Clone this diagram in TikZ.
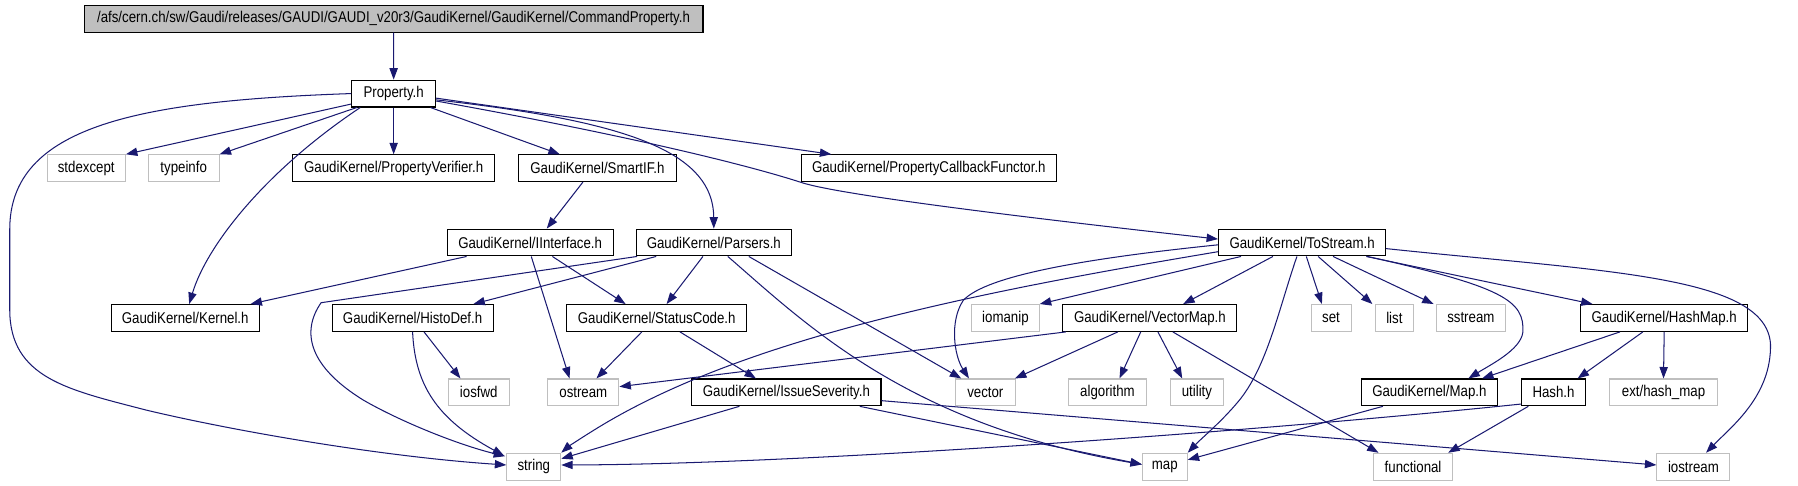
\documentclass[tikz,border=0pt]{standalone}
\usepackage{fontspec}
\setmainfont{Liberation Sans}[FakeStretch=0.85]
\usetikzlibrary{arrows.meta}
\definecolor{edgec}{HTML}{191970}
\definecolor{grayb}{HTML}{BFBFBF}
\definecolor{topfill}{HTML}{BFBFBF}
\newcommand\bxn[6]{\node[#1, minimum width=#5*0.5pt] (#2) at (#3,#4) {#6};}
\begin{document}
\begin{tikzpicture}[x=0.5pt,y=-0.5pt,
  every node/.style={font=\fontsize{6.8pt}{7.5pt}\selectfont, inner sep=0pt, minimum height=11.7pt, anchor=center},
  bk/.style={draw=black, line width=0.45pt},
  gr/.style={draw=grayb, line width=0.45pt},
  tp/.style={draw=black, fill=topfill, line width=0.45pt},
  ed/.style={draw=edgec, line width=0.45pt, -{Triangle[length=5pt,width=3.6pt]}, edgec}]
\useasboundingbox (0,0) rectangle (1568,423);
% row 0/1
\bxn{tp}{top}{343.2}{16.3}{539.7}{/afs/cern.ch/sw/Gaudi/releases/GAUDI/GAUDI\_v20r3/GaudiKernel/GaudiKernel/CommandProperty.h}
\bxn{bk}{prop}{343.3}{81.6}{73.3}{Property.h}
% row 2
\bxn{gr}{stdexcept}{75.2}{146.7}{68.3}{stdexcept}
\bxn{gr}{typeinfo}{160.2}{146.7}{61.7}{typeinfo}
\bxn{bk}{pverif}{343.3}{146.7}{176.7}{GaudiKernel/PropertyVerifier.h}
\bxn{bk}{smartif}{521}{146.7}{137.4}{GaudiKernel/SmartIF.h}
\bxn{bk}{pcbf}{810}{146.7}{222.6}{GaudiKernel/PropertyCallbackFunctor.h}
% row 3
\bxn{bk}{iint}{462.3}{211.5}{144.7}{GaudiKernel/IInterface.h}
\bxn{bk}{parsers}{622.5}{211.5}{135.6}{GaudiKernel/Parsers.h}
\bxn{bk}{tostream}{1135.5}{211.5}{145.6}{GaudiKernel/ToStream.h}
% row 4
\bxn{bk}{kernel}{161.5}{277.3}{129}{GaudiKernel/Kernel.h}
\bxn{bk}{histodef}{359.8}{277.3}{140.3}{GaudiKernel/HistoDef.h}
\bxn{bk}{statuscode}{572.7}{277.3}{157.3}{GaudiKernel/StatusCode.h}
\bxn{gr}{iomanip}{876.8}{277.3}{59}{iomanip}
\bxn{bk}{vectormap}{1002.8}{277.3}{151.7}{GaudiKernel/VectorMap.h}
\bxn{gr}{set}{1160.8}{277.3}{35}{set}
\bxn{gr}{list}{1216}{277.3}{33.4}{list}
\bxn{gr}{sstream}{1282.7}{277.3}{60}{sstream}
\bxn{bk}{hashmap}{1451.3}{277.3}{146}{GaudiKernel/HashMap.h}
% row 5
\bxn{gr}{iosfwd}{417.5}{342.2}{53}{iosfwd}
\bxn{gr}{ostream}{508.7}{342.2}{62}{ostream}
\bxn{bk}{issue}{685.8}{342.2}{165}{GaudiKernel/IssueSeverity.h}
\bxn{gr}{vector}{859.3}{342.2}{52.7}{vector}
\bxn{gr}{algorithm}{965.8}{342.2}{67.7}{algorithm}
\bxn{gr}{utility}{1043.8}{342.2}{45.7}{utility}
\bxn{bk}{mapk}{1246.5}{342.2}{119}{GaudiKernel/Map.h}
\bxn{bk}{hash}{1354.8}{342.2}{55.7}{Hash.h}
\bxn{gr}{exthash}{1450.7}{342.2}{94}{ext/hash\_map}
% row 6
\bxn{gr}{string}{465.5}{407}{47}{string}
\bxn{gr}{map}{1015.8}{407}{39}{map}
\bxn{gr}{functional}{1232.3}{407}{69.3}{functional}
\bxn{gr}{iostream}{1476.8}{407}{63.7}{iostream}

% ---- edges
\draw[ed] (top.south) -- (prop.north);
% Property.h
\draw[ed] ([shift={(0,-3)}]prop.south west) -- (stdexcept.north east);
\draw[ed] ([shift={(5,0)}]prop.south west) -- (typeinfo.north east);
\draw[ed] ([shift={(8,0)}]prop.south west) .. controls (230,150) and (180,215) .. ([shift={(3.5,0)}]kernel.north);
\draw[ed] (prop.south) -- (pverif.north);
\draw[ed] ([shift={(-5,0)}]prop.south east) -- ([shift={(-32.8,0)}]smartif.north);
\draw[ed] ([shift={(0,4)}]prop.east) -- ([shift={(-85,0)}]pcbf.north);
\draw[ed] ([shift={(0,5.5)}]prop.east) .. controls (540,105) and (622,130) .. (parsers.north);
\draw[ed] ([shift={(0,6.5)}]prop.east) .. controls (520,113) and (640,140) .. (700,159.5)
   .. controls (740,172) and (950,196) .. ([shift={(0,-3)}]tostream.west);
\draw[ed] (prop.west) .. controls (120,88) and (8.5,110) .. (8.5,200) -- (8.5,270)
   .. controls (8.5,330) and (60,340) .. (127,357.5)
   .. controls (200,375) and (330,398) .. ([shift={(0,-1.5)}]string.west);
% SmartIF / IInterface
\draw[ed] ([shift={(-12.7,0)}]smartif.south) -- ([shift={(14.5,0)}]iint.north);
\draw[ed] ([shift={(-55.4,0)}]iint.south) -- ([shift={(-8,0)}]kernel.north east);
\draw[ed] ([shift={(19.4,0)}]iint.south) -- ([shift={(52,0)}]statuscode.north west);
\draw[ed] ([shift={(1,0)}]iint.south) -- ([shift={(-12,0)}]ostream.north);
% Parsers
\draw[ed] ([shift={(-9.5,0)}]parsers.south) -- ([shift={(8.6,0)}]statuscode.north);
\draw[ed] ([shift={(18,0)}]parsers.south west) -- ([shift={(53,0)}]histodef.north);
\draw[ed] ([shift={(1.3,0)}]parsers.south west) -- (280,264)
   .. controls (262,290) and (270,320) .. (317,349)
   .. controls (350,368) and (400,388) .. ([shift={(-1,3)}]string.north west);
\draw[ed] ([shift={(12.2,0)}]parsers.south) .. controls (700,280) and (790,370) .. ([shift={(0,-2)}]map.west);
\draw[ed] ([shift={(30.5,0)}]parsers.south) -- ([shift={(-21,0)}]vector.north);
% HistoDef
\draw[ed] ([shift={(10,0)}]histodef.south) -- ([shift={(11,0)}]iosfwd.north west);
\draw[ed] (histodef.south) .. controls (362,335) and (380,365) .. ([shift={(-2,2.5)}]string.north west);
% StatusCode
\draw[ed] ([shift={(-13,0)}]statuscode.south) -- ([shift={(-20,0)}]ostream.north east);
\draw[ed] ([shift={(20.3,0)}]statuscode.south) -- ([shift={(56.4,0)}]issue.north west);
% IssueSeverity
\draw[ed] ([shift={(-41,0)}]issue.south) -- ([shift={(0,-7)}]string.east);
\draw[ed] ([shift={(64,0)}]issue.south) -- ([shift={(0,-2)}]map.west);
\draw[ed] ([shift={(0,7.2)}]issue.east) -- ([shift={(0,-1.5)}]iostream.west);
% VectorMap
\draw[ed] ([shift={(3,0)}]vectormap.south west) -- ([shift={(0,-5)}]ostream.east);
\draw[ed] ([shift={(-28,0)}]vectormap.south) -- ([shift={(-1,0)}]vector.north east);
\draw[ed] ([shift={(-8,0)}]vectormap.south) -- ([shift={(10.5,0)}]algorithm.north);
\draw[ed] ([shift={(7,0)}]vectormap.south) -- ([shift={(-12.8,0)}]utility.north);
\draw[ed] ([shift={(20,0)}]vectormap.south) -- ([shift={(5,0)}]functional.north west);
% ToStream
\draw[ed] ([shift={(20,0)}]tostream.south west) -- (iomanip.north east);
\draw[ed] ([shift={(-25.4,0)}]tostream.south) -- ([shift={(29,0)}]vectormap.north);
\draw[ed] ([shift={(3.7,0)}]tostream.south) -- ([shift={(-8,0)}]set.north);
\draw[ed] ([shift={(14,0)}]tostream.south) -- ([shift={(-2,0)}]list.north west);
\draw[ed] ([shift={(27,0)}]tostream.south) -- ([shift={(-2,0)}]sstream.north west);
\draw[ed] ([shift={(56,0)}]tostream.south) -- ([shift={(11,0)}]hashmap.north west);
\draw[ed] ([shift={(57,0)}]tostream.south) .. controls (1310,250) and (1330,262) .. (1328,290)
   .. controls (1326,305) and (1300,318) .. ([shift={(34,0)}]mapk.north);
\draw[ed] ([shift={(-4.5,0)}]tostream.south) .. controls (1115,270) and (1105,320) .. (1080,350)
   .. controls (1065,368) and (1048,382) .. (map.north east);
\draw[ed] ([shift={(0,2)}]tostream.west) .. controls (950,225) and (860,240) .. (840,262)
   .. controls (828,280) and (832,310) .. ([shift={(-14.3,0)}]vector.north);
\draw[ed] ([shift={(0,8)}]tostream.west) .. controls (850,255) and (650,295) .. (523,372)
   .. controls (505,383) and (495,390) .. (string.north east);
\draw[ed] ([shift={(0,5.3)}]tostream.east) .. controls (1400,237) and (1540,240) .. (1544,300)
   .. controls (1545,345) and (1510,372) .. ([shift={(11,0)}]iostream.north);
% HashMap
\draw[ed] ([shift={(-38.6,0)}]hashmap.south) -- ([shift={(-14,0)}]mapk.north east);
\draw[ed] ([shift={(-18.6,0)}]hashmap.south) -- ([shift={(21,0)}]hash.north);
\draw[ed] (hashmap.south) -- (exthash.north);
% Map.h, Hash.h
\draw[ed] ([shift={(-40.5,0)}]mapk.south) -- ([shift={(0,-6)}]map.east);
\draw[ed] ([shift={(0,-2)}]hash.south west) .. controls (1100,376) and (700,405) .. ([shift={(0,-1.5)}]string.east);
\draw[ed] ([shift={(-22,0)}]hash.south) -- ([shift={(-4.5,0)}]functional.north east);
\end{tikzpicture}
\end{document}
